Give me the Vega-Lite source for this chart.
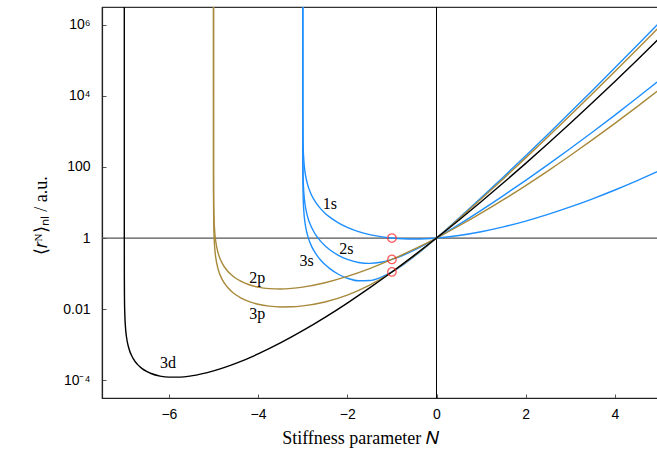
{
  "$schema": "https://vega.github.io/schema/vega-lite/v6.json",
  "autosize": {"type": "none"},
  "padding": {"left": 102, "top": 7, "right": 0, "bottom": 60},
  "width": 557.5,
  "height": 391,
  "config": {
    "view": {"stroke": "#333", "strokeWidth": 1.2},
    "axis": {
      "domainColor": "#222",
      "domainWidth": 1.2,
      "tickColor": "#555",
      "tickSize": -4,
      "tickWidth": 1,
      "grid": false,
      "labelFont": "Liberation Sans",
      "labelFontSize": 14,
      "labelColor": "#000",
      "titleFont": "Liberation Serif",
      "titleFontSize": 18,
      "titleFontWeight": "normal",
      "titleColor": "#000"
    }
  },
  "datasets": {
    "curves": [
      {"state": "1s", "N": -2.999999999, "r": 4e9},
      {"state": "1s", "N": -2.999, "r": 3995},
      {"state": "1s", "N": -2.99, "r": 395},
      {"state": "1s", "N": -2.97, "r": 128.4},
      {"state": "1s", "N": -2.95, "r": 75.2},
      {"state": "1s", "N": -2.9, "r": 35.5},
      {"state": "1s", "N": -2.8, "r": 15.99},
      {"state": "1s", "N": -2.7, "r": 9.72},
      {"state": "1s", "N": -2.6, "r": 6.724},
      {"state": "1s", "N": -2.5, "r": 5.013},
      {"state": "1s", "N": -2.4, "r": 3.93},
      {"state": "1s", "N": -2.2, "r": 2.675},
      {"state": "1s", "N": -2, "r": 2},
      {"state": "1s", "N": -1.75, "r": 1.524},
      {"state": "1s", "N": -1.5, "r": 1.253},
      {"state": "1s", "N": -1.25, "r": 1.093},
      {"state": "1s", "N": -1, "r": 1},
      {"state": "1s", "N": -0.75, "r": 0.9527},
      {"state": "1s", "N": -0.5, "r": 0.94},
      {"state": "1s", "N": -0.25, "r": 0.9564},
      {"state": "1s", "N": 0, "r": 1},
      {"state": "1s", "N": 0.5, "r": 1.175},
      {"state": "1s", "N": 1, "r": 1.5},
      {"state": "1s", "N": 1.5, "r": 2.056},
      {"state": "1s", "N": 2, "r": 3},
      {"state": "1s", "N": 2.5, "r": 4.627},
      {"state": "1s", "N": 3, "r": 7.5},
      {"state": "1s", "N": 3.5, "r": 12.72},
      {"state": "1s", "N": 4, "r": 22.5},
      {"state": "1s", "N": 4.5, "r": 41.35},
      {"state": "1s", "N": 5, "r": 78.75},

      {"state": "2s", "N": -2.999999999, "r": 5e8},
      {"state": "2s", "N": -2.999, "r": 499.3},
      {"state": "2s", "N": -2.99, "r": 49.34},
      {"state": "2s", "N": -2.97, "r": 16.03},
      {"state": "2s", "N": -2.95, "r": 9.376},
      {"state": "2s", "N": -2.9, "r": 4.412},
      {"state": "2s", "N": -2.8, "r": 1.974},
      {"state": "2s", "N": -2.7, "r": 1.193},
      {"state": "2s", "N": -2.6, "r": 0.8207},
      {"state": "2s", "N": -2.5, "r": 0.6093},
      {"state": "2s", "N": -2.4, "r": 0.4765},
      {"state": "2s", "N": -2.2, "r": 0.326},
      {"state": "2s", "N": -2, "r": 0.25},
      {"state": "2s", "N": -1.75, "r": 0.2054},
      {"state": "2s", "N": -1.5, "r": 0.1939},
      {"state": "2s", "N": -1.25, "r": 0.2082},
      {"state": "2s", "N": -1, "r": 0.25},
      {"state": "2s", "N": -0.75, "r": 0.3275},
      {"state": "2s", "N": -0.5, "r": 0.457},
      {"state": "2s", "N": -0.25, "r": 0.666},
      {"state": "2s", "N": 0, "r": 1},
      {"state": "2s", "N": 0.5, "r": 2.389},
      {"state": "2s", "N": 1, "r": 6},
      {"state": "2s", "N": 1.5, "r": 15.63},
      {"state": "2s", "N": 2, "r": 42},
      {"state": "2s", "N": 2.5, "r": 116.1},
      {"state": "2s", "N": 3, "r": 330},
      {"state": "2s", "N": 3.5, "r": 962.6},
      {"state": "2s", "N": 4, "r": 2880},
      {"state": "2s", "N": 4.5, "r": 8830},
      {"state": "2s", "N": 5, "r": 27720},

      {"state": "3s", "N": -2.999999999, "r": 1.48e8},
      {"state": "3s", "N": -2.999, "r": 147.96},
      {"state": "3s", "N": -2.99, "r": 14.62},
      {"state": "3s", "N": -2.97, "r": 4.747},
      {"state": "3s", "N": -2.95, "r": 2.776},
      {"state": "3s", "N": -2.9, "r": 1.3057},
      {"state": "3s", "N": -2.8, "r": 0.5834},
      {"state": "3s", "N": -2.7, "r": 0.352},
      {"state": "3s", "N": -2.6, "r": 0.2418},
      {"state": "3s", "N": -2.5, "r": 0.17923},
      {"state": "3s", "N": -2.4, "r": 0.14002},
      {"state": "3s", "N": -2.2, "r": 0.0958},
      {"state": "3s", "N": -2, "r": 0.07407},
      {"state": "3s", "N": -1.75, "r": 0.06292},
      {"state": "3s", "N": -1.5, "r": 0.06406},
      {"state": "3s", "N": -1.25, "r": 0.07813},
      {"state": "3s", "N": -1, "r": 0.1111},
      {"state": "3s", "N": -0.75, "r": 0.17673},
      {"state": "3s", "N": -0.5, "r": 0.30244},
      {"state": "3s", "N": -0.25, "r": 0.54195},
      {"state": "3s", "N": 0, "r": 1},
      {"state": "3s", "N": 0.5, "r": 3.593},
      {"state": "3s", "N": 1, "r": 13.5},
      {"state": "3s", "N": 1.5, "r": 52.25},
      {"state": "3s", "N": 2, "r": 207},
      {"state": "3s", "N": 2.5, "r": 836.5},
      {"state": "3s", "N": 3, "r": 3442.5},
      {"state": "3s", "N": 3.5, "r": 14413},
      {"state": "3s", "N": 4, "r": 61357},
      {"state": "3s", "N": 4.5, "r": 265500},
      {"state": "3s", "N": 5, "r": 1167300},

      {"state": "2p", "N": -4.999999999, "r": 4.17e7},
      {"state": "2p", "N": -4.999, "r": 41.64},
      {"state": "2p", "N": -4.99, "r": 4.143},
      {"state": "2p", "N": -4.97, "r": 1.366},
      {"state": "2p", "N": -4.95, "r": 0.8113},
      {"state": "2p", "N": -4.9, "r": 0.3964},
      {"state": "2p", "N": -4.8, "r": 0.19128},
      {"state": "2p", "N": -4.7, "r": 0.12465},
      {"state": "2p", "N": -4.6, "r": 0.09243},
      {"state": "2p", "N": -4.5, "r": 0.07385},
      {"state": "2p", "N": -4.4, "r": 0.06205},
      {"state": "2p", "N": -4.2, "r": 0.04851},
      {"state": "2p", "N": -4, "r": 0.041667},
      {"state": "2p", "N": -3.75, "r": 0.03777},
      {"state": "2p", "N": -3.5, "r": 0.036925},
      {"state": "2p", "N": -3.25, "r": 0.0383},
      {"state": "2p", "N": -3, "r": 0.041667},
      {"state": "2p", "N": -2.5, "r": 0.05539},
      {"state": "2p", "N": -2, "r": 0.08333},
      {"state": "2p", "N": -1.5, "r": 0.13848},
      {"state": "2p", "N": -1, "r": 0.25},
      {"state": "2p", "N": -0.5, "r": 0.4847},
      {"state": "2p", "N": 0, "r": 1},
      {"state": "2p", "N": 0.5, "r": 2.181},
      {"state": "2p", "N": 1, "r": 5},
      {"state": "2p", "N": 1.5, "r": 12.0},
      {"state": "2p", "N": 2, "r": 30},
      {"state": "2p", "N": 2.5, "r": 77.97},
      {"state": "2p", "N": 3, "r": 210},
      {"state": "2p", "N": 3.5, "r": 584.8},
      {"state": "2p", "N": 4, "r": 1680},
      {"state": "2p", "N": 4.5, "r": 4970},
      {"state": "2p", "N": 5, "r": 15120},

      {"state": "3p", "N": -4.999999999, "r": 1.46e7},
      {"state": "3p", "N": -4.999, "r": 14.62},
      {"state": "3p", "N": -4.99, "r": 1.4544},
      {"state": "3p", "N": -4.97, "r": 0.47924},
      {"state": "3p", "N": -4.95, "r": 0.28442},
      {"state": "3p", "N": -4.9, "r": 0.13871},
      {"state": "3p", "N": -4.8, "r": 0.06666},
      {"state": "3p", "N": -4.7, "r": 0.043224},
      {"state": "3p", "N": -4.6, "r": 0.031875},
      {"state": "3p", "N": -4.5, "r": 0.025313},
      {"state": "3p", "N": -4.4, "r": 0.021122},
      {"state": "3p", "N": -4.2, "r": 0.016258},
      {"state": "3p", "N": -4, "r": 0.013717},
      {"state": "3p", "N": -3.75, "r": 0.012127},
      {"state": "3p", "N": -3.5, "r": 0.011538},
      {"state": "3p", "N": -3.25, "r": 0.011642},
      {"state": "3p", "N": -3, "r": 0.012346},
      {"state": "3p", "N": -2.5, "r": 0.015912},
      {"state": "3p", "N": -2, "r": 0.024691},
      {"state": "3p", "N": -1.5, "r": 0.047108},
      {"state": "3p", "N": -1, "r": 0.1111},
      {"state": "3p", "N": -0.5, "r": 0.3133},
      {"state": "3p", "N": 0, "r": 1},
      {"state": "3p", "N": 0.5, "r": 3.45},
      {"state": "3p", "N": 1, "r": 12.5},
      {"state": "3p", "N": 1.5, "r": 46.83},
      {"state": "3p", "N": 2, "r": 180},
      {"state": "3p", "N": 2.5, "r": 707.3},
      {"state": "3p", "N": 3, "r": 2835},
      {"state": "3p", "N": 3.5, "r": 11581},
      {"state": "3p", "N": 4, "r": 48195},
      {"state": "3p", "N": 4.5, "r": 204170},
      {"state": "3p", "N": 5, "r": 880270},

      {"state": "3d", "N": -6.999999999999, "r": 8.13e7},
      {"state": "3d", "N": -6.999999, "r": 81.3},
      {"state": "3d", "N": -6.9999, "r": 0.8128},
      {"state": "3d", "N": -6.999, "r": 0.08127},
      {"state": "3d", "N": -6.997, "r": 0.027082},
      {"state": "3d", "N": -6.99, "r": 0.0081153},
      {"state": "3d", "N": -6.97, "r": 0.0026977},
      {"state": "3d", "N": -6.95, "r": 0.0016151},
      {"state": "3d", "N": -6.9, "r": 0.00080535},
      {"state": "3d", "N": -6.8, "r": 0.00040471},
      {"state": "3d", "N": -6.7, "r": 0.00027464},
      {"state": "3d", "N": -6.6, "r": 0.00021207},
      {"state": "3d", "N": -6.5, "r": 0.00017647},
      {"state": "3d", "N": -6.4, "r": 0.0001544},
      {"state": "3d", "N": -6.2, "r": 0.0001309},
      {"state": "3d", "N": -6, "r": 0.00012193},
      {"state": "3d", "N": -5.75, "r": 0.00012232},
      {"state": "3d", "N": -5.5, "r": 0.00013234},
      {"state": "3d", "N": -5, "r": 0.0001829},
      {"state": "3d", "N": -4.5, "r": 0.00029776},
      {"state": "3d", "N": -4, "r": 0.0005487},
      {"state": "3d", "N": -3.5, "r": 0.0011167},
      {"state": "3d", "N": -3, "r": 0.0024691},
      {"state": "3d", "N": -2.5, "r": 0.0058627},
      {"state": "3d", "N": -2, "r": 0.014815},
      {"state": "3d", "N": -1.5, "r": 0.03957},
      {"state": "3d", "N": -1, "r": 0.11111},
      {"state": "3d", "N": -0.5, "r": 0.32648},
      {"state": "3d", "N": 0, "r": 1},
      {"state": "3d", "N": 0.5, "r": 3.1831},
      {"state": "3d", "N": 1, "r": 10.5},
      {"state": "3d", "N": 1.5, "r": 35.81},
      {"state": "3d", "N": 2, "r": 126},
      {"state": "3d", "N": 2.5, "r": 456.6},
      {"state": "3d", "N": 3, "r": 1701},
      {"state": "3d", "N": 3.5, "r": 6506},
      {"state": "3d", "N": 4, "r": 25515},
      {"state": "3d", "N": 4.5, "r": 102472},
      {"state": "3d", "N": 5, "r": 421000}
    ],
    "labels": [
      {"text": "1s", "N": -2.39, "r": 9.1},
      {"text": "2s", "N": -2.02, "r": 0.49},
      {"text": "3s", "N": -2.91, "r": 0.23},
      {"text": "2p", "N": -4.02, "r": 0.075},
      {"text": "3p", "N": -4.02, "r": 0.0073},
      {"text": "3d", "N": -6.02, "r": 0.0003}
    ],
    "marks": [
      {"N": -1, "r": 1},
      {"N": -1, "r": 0.25},
      {"N": -1, "r": 0.1111}
    ],
    "hline": [{"r": 1}],
    "vline": [{"N": 0}]
  },
  "layer": [
    {
      "data": {"name": "hline"},
      "mark": {"type": "rule", "color": "#555", "strokeWidth": 1.2},
      "encoding": {"y": {"field": "r", "type": "quantitative"}}
    },
    {
      "data": {"name": "vline"},
      "mark": {"type": "rule", "color": "#000", "strokeWidth": 1},
      "encoding": {"x": {"field": "N", "type": "quantitative"}}
    },
    {
      "data": {"name": "curves"},
      "mark": {"type": "line", "clip": true, "strokeWidth": 1.4, "interpolate": "monotone"},
      "encoding": {
        "x": {
          "field": "N", "type": "quantitative",
          "scale": {"domain": [-7.5, 5], "nice": false, "zero": false},
          "axis": {
            "values": [-6, -4, -2, 0, 2, 4],
            "title": "Stiffness parameter 𝑁",
            "labelPadding": 13,
            "titlePadding": 8,
            "titleX": 258
          }
        },
        "y": {
          "field": "r", "type": "quantitative",
          "scale": {"type": "log", "domain": [3.1623e-5, 3.1623e6], "nice": false},
          "axis": {
            "values": [0.0001, 0.01, 1, 100, 10000, 1000000],
            "labelExpr": "datum.value < 0.001 ? '10⁻⁴' : datum.value < 0.1 ? '0.01' : datum.value < 10 ? '1' : datum.value < 1000 ? '100' : datum.value < 100000 ? '10⁴' : '10⁶'",
            "title": "⟨𝑟ᴺ⟩ₙₗ / a.u.",
            "labelPadding": 16,
            "titlePadding": 12,
            "titleY": 208
          }
        },
        "color": {
          "field": "state", "type": "nominal",
          "scale": {"domain": ["1s", "2s", "3s", "2p", "3p", "3d"], "range": ["#1e8fff", "#1e8fff", "#1e8fff", "#a8893a", "#a8893a", "#000000"]},
          "legend": null
        },
        "detail": {"field": "state"}
      }
    },
    {
      "data": {"name": "marks"},
      "mark": {"type": "point", "shape": "circle", "filled": false, "color": "#ff1a1a", "size": 72, "strokeWidth": 1.3},
      "encoding": {
        "x": {"field": "N", "type": "quantitative"},
        "y": {"field": "r", "type": "quantitative"}
      }
    },
    {
      "data": {"name": "labels"},
      "mark": {"type": "text", "font": "Liberation Serif", "fontSize": 16, "color": "#000", "align": "center", "baseline": "middle"},
      "encoding": {
        "x": {"field": "N", "type": "quantitative"},
        "y": {"field": "r", "type": "quantitative"},
        "text": {"field": "text"}
      }
    }
  ]
}
